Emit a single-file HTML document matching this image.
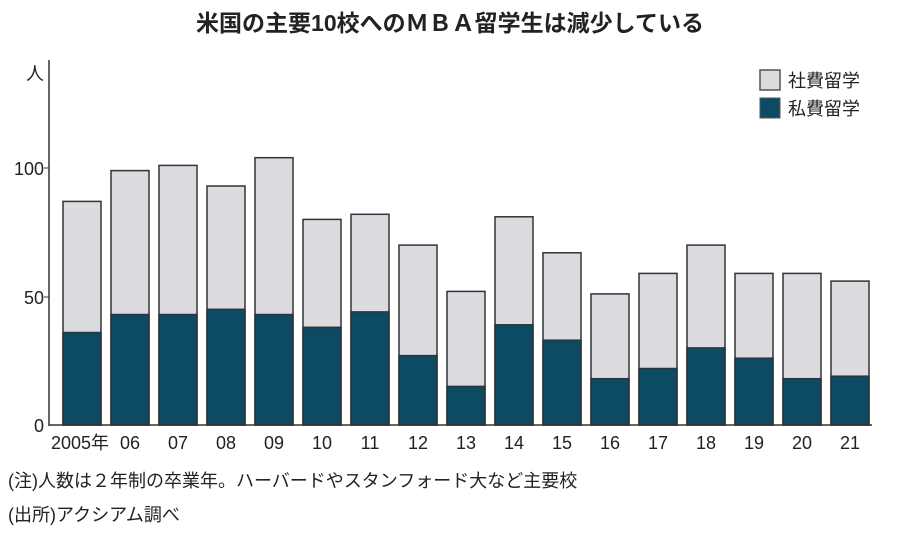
<!DOCTYPE html><html><head><meta charset="utf-8"><style>body{margin:0;background:#fff}svg text{font-family:"Liberation Sans","Noto Sans CJK JP",sans-serif;fill:#222}</style></head><body>
<svg width="900" height="536" xmlns="http://www.w3.org/2000/svg">
<text x="450" y="31" text-anchor="middle" font-size="23" font-weight="bold">米国の主要10校へのＭＢＡ留学生は減少している</text>
<text x="26" y="80" font-size="18">人</text>
<g font-size="18" text-anchor="end">
<text x="44" y="175">100</text><text x="44" y="304">50</text><text x="44" y="432">0</text></g>
<rect x="760" y="70" width="20" height="20" fill="#dcdce0" stroke="#555" stroke-width="1.5"/>
<rect x="760" y="98" width="20" height="20" fill="#0d4a63" stroke="#555" stroke-width="1"/>
<text x="788" y="87" font-size="18">社費留学</text><text x="788" y="115" font-size="18">私費留学</text>
<g stroke="#333" stroke-width="1.5">
<g fill="#dcdce0">
<rect x="63" y="201.4" width="38" height="223.6"/>
<rect x="111" y="170.6" width="38" height="254.4"/>
<rect x="159" y="165.4" width="38" height="259.6"/>
<rect x="207" y="186" width="38" height="239"/>
<rect x="255" y="157.7" width="38" height="267.3"/>
<rect x="303" y="219.4" width="38" height="205.6"/>
<rect x="351" y="214.3" width="38" height="210.7"/>
<rect x="399" y="245.1" width="38" height="179.9"/>
<rect x="447" y="291.4" width="38" height="133.6"/>
<rect x="495" y="216.8" width="38" height="208.2"/>
<rect x="543" y="252.8" width="38" height="172.2"/>
<rect x="591" y="293.9" width="38" height="131.1"/>
<rect x="639" y="273.4" width="38" height="151.6"/>
<rect x="687" y="245.1" width="38" height="179.9"/>
<rect x="735" y="273.4" width="38" height="151.6"/>
<rect x="783" y="273.4" width="38" height="151.6"/>
<rect x="831" y="281.1" width="38" height="143.9"/>
</g>
<g fill="#0d4a63">
<rect x="63" y="332.5" width="38" height="92.5"/>
<rect x="111" y="314.5" width="38" height="110.5"/>
<rect x="159" y="314.5" width="38" height="110.5"/>
<rect x="207" y="309.3" width="38" height="115.7"/>
<rect x="255" y="314.5" width="38" height="110.5"/>
<rect x="303" y="327.3" width="38" height="97.7"/>
<rect x="351" y="311.9" width="38" height="113.1"/>
<rect x="399" y="355.6" width="38" height="69.4"/>
<rect x="447" y="386.4" width="38" height="38.6"/>
<rect x="495" y="324.8" width="38" height="100.2"/>
<rect x="543" y="340.2" width="38" height="84.8"/>
<rect x="591" y="378.7" width="38" height="46.3"/>
<rect x="639" y="368.5" width="38" height="56.5"/>
<rect x="687" y="347.9" width="38" height="77.1"/>
<rect x="735" y="358.2" width="38" height="66.8"/>
<rect x="783" y="378.7" width="38" height="46.3"/>
<rect x="831" y="376.2" width="38" height="48.8"/>
</g></g>
<line x1="49" y1="60" x2="49" y2="426" stroke="#333" stroke-width="1.5"/>
<line x1="49" y1="425" x2="872" y2="425" stroke="#333" stroke-width="1.5"/>
<line x1="44" y1="168" x2="49" y2="168" stroke="#333"/><line x1="44" y1="297" x2="49" y2="297" stroke="#333"/>
<g font-size="18" text-anchor="middle">
<text x="80" y="449">2005年</text><text x="130" y="449">06</text><text x="178" y="449">07</text><text x="226" y="449">08</text><text x="274" y="449">09</text><text x="322" y="449">10</text><text x="370" y="449">11</text><text x="418" y="449">12</text><text x="466" y="449">13</text><text x="514" y="449">14</text><text x="562" y="449">15</text><text x="610" y="449">16</text><text x="658" y="449">17</text><text x="706" y="449">18</text><text x="754" y="449">19</text><text x="802" y="449">20</text><text x="850" y="449">21</text>
</g>
<text x="8" y="487" font-size="18">(注)人数は２年制の卒業年。ハーバードやスタンフォード大など主要校</text>
<text x="8" y="521" font-size="18">(出所)アクシアム調べ</text>
</svg></body></html>
